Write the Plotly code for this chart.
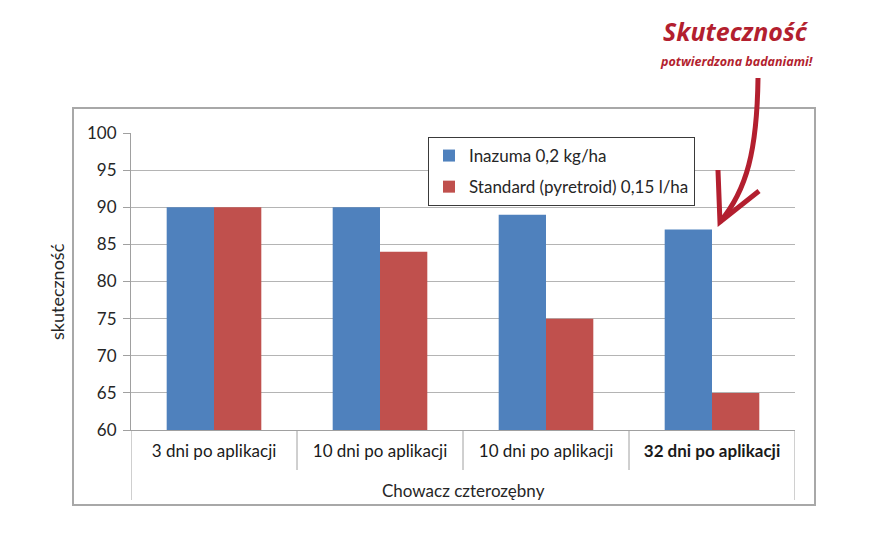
import plotly.graph_objects as go

categories = ["3 dni po aplikacji", "10 dni po aplikacji", "10 dni po aplikacji", "32 dni po aplikacji"]
group_label = "Chowacz czterozębny"
series_names = ["Inazuma 0,2 kg/ha", "Standard (pyretroid) 0,15 l/ha"]
inazuma = [90, 90, 89, 87]
standard = [90, 84, 75, 65]
y_ticks = [60, 65, 70, 75, 80, 85, 90, 95, 100]

BLUE = "#4f81bd"
RED = "#c0504d"
DARK_RED = "#b31f2f"
GRID = "#b4b4b4"
FONT = "Lato"

x_idx = list(range(len(categories)))
tick_text = [c if i < len(categories) - 1 else "<b>" + c + "</b>" for i, c in enumerate(categories)]

fig = go.Figure()
fig.add_trace(go.Bar(x=x_idx, y=inazuma, name=series_names[0], marker_color=BLUE,
                     marker_line_width=0, legendgroup="a"))
fig.add_trace(go.Bar(x=x_idx, y=standard, name=series_names[1], marker_color=RED,
                     marker_line_width=0, legendgroup="b"))

W, H = 880, 540
L, R, T, B = 131, 85, 133, 110
pw, ph = W - L - R, H - T - B


def px(x):
    return (x - L) / pw


def py(y):
    return (H - B - y) / ph


fig.update_layout(
    width=W, height=H,
    margin=dict(l=L, r=R, t=T, b=B),
    paper_bgcolor="white", plot_bgcolor="white",
    barmode="group", bargap=0.43, bargroupgap=0,
    font=dict(family=FONT, size=17, color="#262626"),
    showlegend=True,
    legend=dict(x=px(428), y=py(137), xanchor="left", yanchor="top",
                bordercolor="#3a3a3a", borderwidth=1, bgcolor="white",
                font=dict(size=17, color="#262626"), itemwidth=30,
                tracegroupgap=6),
    xaxis=dict(range=[-0.5, 3.5], tickmode="array", tickvals=x_idx, ticktext=tick_text,
               showgrid=False, showline=True, linecolor="#a0a0a0", linewidth=1,
               ticks="", zeroline=False, fixedrange=True,
               tickfont=dict(size=17, color="#1a1a1a"), ticklabelstandoff=6),
    yaxis=dict(range=[60, 100], tickmode="array", tickvals=y_ticks,
               showgrid=True, gridcolor=GRID, gridwidth=1,
               showline=True, linecolor="#a0a0a0", linewidth=1,
               ticks="outside", ticklen=7, tickcolor="#a0a0a0",
               zeroline=False, tickfont=dict(size=17, color="#262626"),
               ticklabelstandoff=3),
)

shapes = []
# category dividers
for i in range(len(categories) - 1):
    shapes.append(dict(type="line", xref="x", yref="paper", x0=i + 0.5, x1=i + 0.5,
                       y0=0, y1=py(470), line=dict(color="#a0a0a0", width=1)))
# outer group lines
for xv in (-0.5, len(categories) - 0.5):
    shapes.append(dict(type="line", xref="x", yref="paper", x0=xv, x1=xv,
                       y0=0, y1=py(500), line=dict(color="#a0a0a0", width=1)))
# chart frame
shapes.append(dict(type="rect", xref="paper", yref="paper", x0=px(73), x1=px(815),
                   y0=py(505), y1=py(108), line=dict(color="#a8a8a8", width=2),
                   fillcolor="rgba(0,0,0,0)", layer="below"))
# arrow
p = lambda a, b: f"{px(a):.4f},{py(b):.4f}"
shapes.append(dict(type="path", xref="paper", yref="paper",
                   path=f"M {p(758, 78)} C {p(757, 150)} {p(747, 190)} {p(720, 222)}",
                   line=dict(color=DARK_RED, width=5)))
shapes.append(dict(type="path", xref="paper", yref="paper",
                   path=f"M {p(718, 170)} L {p(720, 222)} L {p(759, 191)}",
                   line=dict(color=DARK_RED, width=5)))
fig.update_layout(shapes=shapes)

annotations = [
    dict(text=group_label, xref="paper", yref="paper", x=0.5, y=py(490),
         showarrow=False, font=dict(size=17, color="#262626"), yanchor="middle"),
    dict(text="skuteczność", xref="paper", yref="paper", x=px(57), y=py(292),
         showarrow=False, textangle=-90, font=dict(size=18, color="#262626"),
         xanchor="center", yanchor="middle"),
    dict(text="<b><i>Skuteczność</i></b>", xref="paper", yref="paper", x=px(736), y=py(50),
         showarrow=False, font=dict(family="Open Sans", size=25, color=DARK_RED),
         xanchor="center", yanchor="bottom"),
    dict(text="<b><i>potwierdzona badaniami!</i></b>", xref="paper", yref="paper",
         x=px(736), y=py(51), showarrow=False,
         font=dict(family="Open Sans", size=12.5, color=DARK_RED),
         xanchor="center", yanchor="top"),
]
fig.update_layout(annotations=annotations)

fig.write_html("out.html")
